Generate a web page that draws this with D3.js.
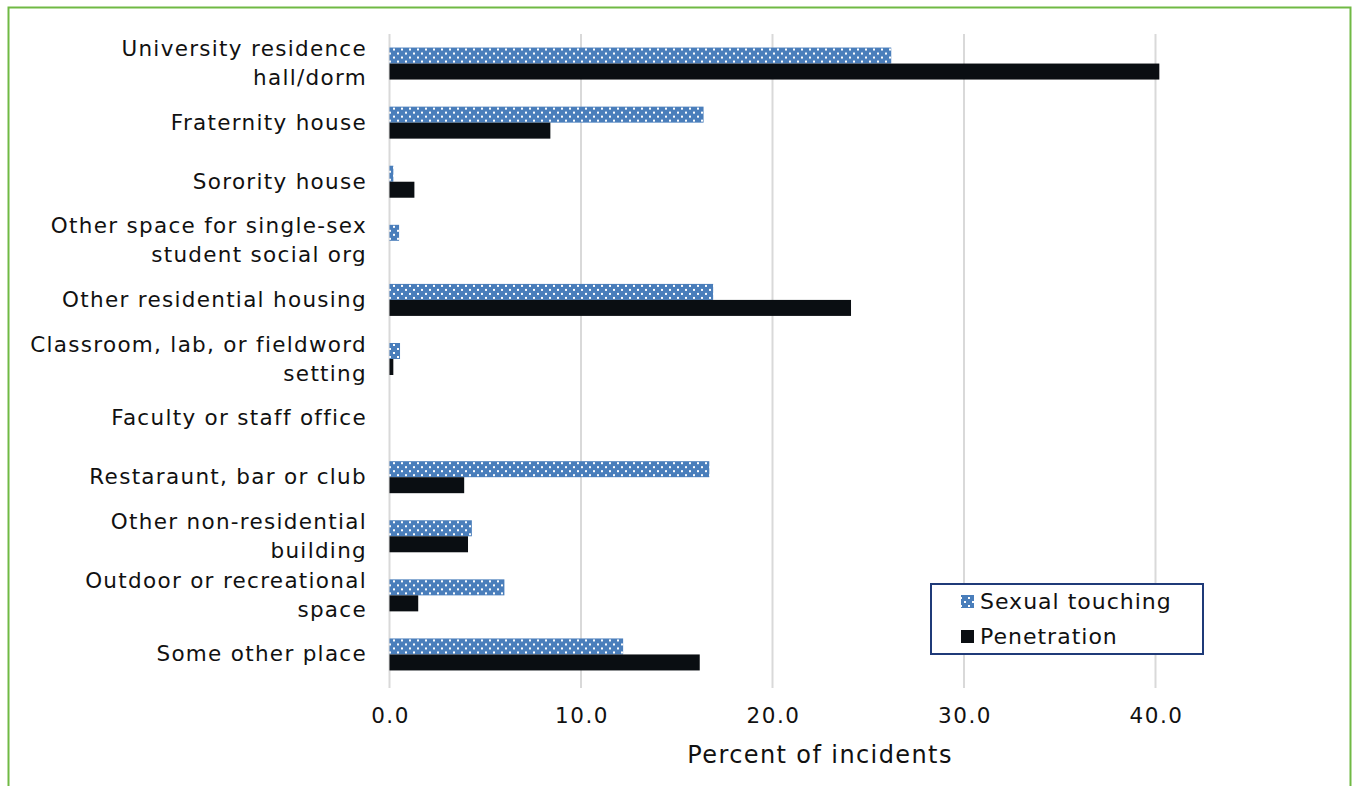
<html>
<head>
<style>
  body { margin: 0; background: #fff; }
  text { font-family: "DejaVu Sans", Verdana, sans-serif; fill: #111; }
</style>
<script src="https://d3js.org/d3.v7.min.js"></script>
</head>
<body>
<svg id="chart"></svg>
<script>
var categories = [
  ["University residence", "hall/dorm"],
  ["Fraternity house"],
  ["Sorority house"],
  ["Other space for single-sex", "student social org"],
  ["Other residential housing"],
  ["Classroom, lab, or fieldword", "setting"],
  ["Faculty or staff office"],
  ["Restaraunt, bar or club"],
  ["Other non-residential", "building"],
  ["Outdoor or recreational", "space"],
  ["Some other place"]
];
var touching = [26.2, 16.4, 0.2, 0.5, 16.9, 0.55, 0, 16.7, 4.3, 6.0, 12.2];
var penetration = [40.2, 8.4, 1.3, 0, 24.1, 0.2, 0, 3.9, 4.1, 1.5, 16.2];
var seriesNames = ["Sexual touching", "Penetration"];
var ticks = [0, 10, 20, 30, 40];

var width = 1353, height = 786;
var svg = d3.select("#chart").attr("width", width).attr("height", height);

// dotted fill for the first series
var defs = svg.append("defs");
var pat = defs.append("pattern").attr("id", "dots")
  .attr("width", 8).attr("height", 8).attr("patternUnits", "userSpaceOnUse");
pat.append("rect").attr("width", 8).attr("height", 8).attr("fill", "#4a7ebb");
pat.append("rect").attr("x", 1).attr("y", 1).attr("width", 2).attr("height", 2).attr("fill", "#fff");
pat.append("rect").attr("x", 5).attr("y", 5).attr("width", 2).attr("height", 2).attr("fill", "#fff");

// green frame
svg.append("path")
  .attr("d", "M8.5,790 L8.5,7.5 L1350.5,7.5 L1350.5,790")
  .attr("fill", "none").attr("stroke", "#70b944").attr("stroke-width", 2);

var x = d3.scaleLinear().domain([0, 40]).range([389.5, 1155.5]);
var y = d3.scaleBand().domain(d3.range(categories.length)).range([34, 684]);
var sub = d3.scaleBand().domain([0, 1]).range([0, 32]);
var barOff = (y.bandwidth() - 32) / 2;

// gridlines
svg.append("g").selectAll("line").data(ticks).enter().append("line")
  .attr("x1", function(d) { return x(d); }).attr("x2", function(d) { return x(d); })
  .attr("y1", 34).attr("y2", 688)
  .attr("stroke", "#d9d9d9").attr("stroke-width", 2);

var rows = svg.append("g").selectAll("g").data(categories).enter().append("g")
  .attr("transform", function(d, i) { return "translate(0," + (y(i) + barOff) + ")"; });

rows.append("rect")
  .attr("x", x(0))
  .attr("y", sub(0))
  .attr("height", sub.bandwidth())
  .attr("width", function(d, i) { return x(touching[i]) - x(0); })
  .attr("fill", "url(#dots)");
rows.append("rect")
  .attr("x", x(0))
  .attr("y", sub(1))
  .attr("height", sub.bandwidth())
  .attr("width", function(d, i) { return x(penetration[i]) - x(0); })
  .attr("fill", "#0a0e12");

// category labels
svg.append("g").selectAll("text").data(categories).enter().append("text")
  .attr("text-anchor", "end")
  .attr("font-size", 21.5)
  .attr("letter-spacing", 1.3)
  .attr("x", 367)
  .attr("y", function(d, i) { return y(i) + y.bandwidth() / 2 + 7 - (d.length - 1) * 14.5; })
  .each(function(d) {
    var t = d3.select(this);
    d.forEach(function(line, k) {
      t.append("tspan").attr("x", 367).attr("dy", k ? 29 : 0).text(line);
    });
  });

// x axis tick labels
svg.append("g").selectAll("text").data(ticks).enter().append("text")
  .attr("x", function(d) { return x(d) + 1; })
  .attr("y", 723)
  .attr("text-anchor", "middle")
  .attr("font-size", 21.5)
  .attr("letter-spacing", 1.5)
  .text(function(d) { return d3.format(".1f")(d); });

svg.append("text").attr("x", 820).attr("y", 763).attr("text-anchor", "middle")
  .attr("font-size", 24).attr("letter-spacing", 1.4).text("Percent of incidents");

// legend
var lg = svg.append("g").attr("transform", "translate(931,584)");
lg.append("rect").attr("width", 272).attr("height", 70)
  .attr("fill", "#fff").attr("stroke", "#1f3a78").attr("stroke-width", 2);
var fills = ["url(#dots)", "#0a0e12"];
seriesNames.forEach(function(name, i) {
  lg.append("rect").attr("x", 30).attr("y", 11 + i * 35).attr("width", 13).attr("height", 13)
    .attr("fill", fills[i]);
  lg.append("text").attr("x", 49).attr("y", 25 + i * 35).attr("font-size", 22)
    .attr("letter-spacing", 1).text(name);
});
</script>
</body>
</html>
